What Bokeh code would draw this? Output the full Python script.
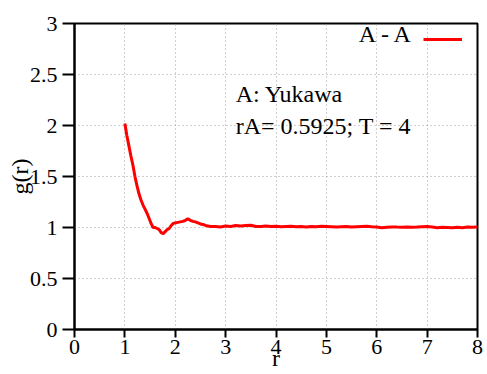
from bokeh.plotting import figure
from bokeh.models import Range1d, FixedTicker, Label, Legend, LegendItem
from bokeh.embed import file_html
from bokeh.resources import INLINE

# ---- data ----
r = [1.00, 1.04, 1.08, 1.12, 1.16, 1.20, 1.24, 1.28, 1.32, 1.36, 1.40, 1.44,
     1.48, 1.52, 1.56, 1.60, 1.64, 1.68, 1.72, 1.76, 1.80, 1.84, 1.88, 1.92,
     1.96, 2.00, 2.05, 2.10, 2.15, 2.20, 2.25, 2.30, 2.35, 2.40, 2.45, 2.50,
     2.55, 2.60, 2.65, 2.70,
     2.8, 2.9, 3.0, 3.1, 3.2, 3.3, 3.4, 3.5, 3.6, 3.7, 3.8, 3.9, 4.0, 4.1,
     4.2, 4.3, 4.4, 4.5, 4.6, 4.7, 4.8, 4.9, 5.0, 5.1, 5.2, 5.3, 5.4, 5.5,
     5.6, 5.7, 5.8, 5.9, 6.0, 6.1, 6.2, 6.3, 6.4, 6.5, 6.6, 6.7, 6.8, 6.9,
     7.0, 7.1, 7.2, 7.3, 7.4, 7.5, 7.6, 7.7, 7.8, 7.9, 8.0]
g = [2.02, 1.90, 1.80, 1.70, 1.61, 1.50, 1.41, 1.33, 1.27, 1.22, 1.18, 1.14,
     1.09, 1.04, 1.00, 1.00, 0.99, 0.98, 0.95, 0.94, 0.96, 0.98, 0.99, 1.02,
     1.04, 1.045, 1.05, 1.055, 1.06, 1.07, 1.085, 1.07, 1.06, 1.055, 1.045, 1.035,
     1.03, 1.02, 1.015, 1.01,
     1.01, 1.005, 1.015, 1.01, 1.02, 1.015, 1.02, 1.022, 1.01, 1.01, 1.015, 1.01,
     1.012, 1.008, 1.01, 1.012, 1.008, 1.01, 1.005, 1.01, 1.008, 1.012, 1.01, 1.008,
     1.005, 1.008, 1.01, 1.006, 1.008, 1.01, 1.012, 1.008, 1.005, 0.998, 1.002, 1.006,
     1.004, 1.003, 1.005, 1.002, 1.004, 1.008, 1.01, 1.005, 0.998, 1.003, 1.0, 0.997,
     1.002, 0.998, 1.004, 1.003, 1.004]

x_ticks = [0, 1, 2, 3, 4, 5, 6, 7, 8]
x_tick_labels = ["0", "1", "2", "3", "4", "5", "6", "7", "8"]
y_ticks = [0, 0.5, 1, 1.5, 2, 2.5, 3]
y_tick_labels = ["0", "0.5", "1", "1.5", "2", "2.5", "3"]

series_name = "A - A"
note_1 = "A: Yukawa"
note_2 = "rA= 0.5925; T = 4"
x_label = "r"
y_label = "g(r)"

FONT = "Liberation Serif"
TICK_FS = "22px"
FS = "24px"

p = figure(width=487, height=374, output_backend="svg", toolbar_location=None,
           x_range=Range1d(0, 8), y_range=Range1d(0, 3),
           min_border_left=74, min_border_right=10, min_border_top=23,
           min_border_bottom=45)
p.background_fill_color = "white"
p.border_fill_color = "white"
p.outline_line_color = "black"
p.outline_line_width = 2
p.outline_line_alpha = 1

for ax, ticks, labels in ((p.xaxis[0], x_ticks, x_tick_labels),
                          (p.yaxis[0], y_ticks, y_tick_labels)):
    ax.ticker = FixedTicker(ticks=ticks)
    ax.major_label_overrides = {t: l for t, l in zip(ticks, labels)}
    ax.minor_tick_line_color = None
    ax.major_tick_in = 0
    ax.axis_line_color = "black"
    ax.axis_line_width = 2
    ax.major_tick_line_color = "black"
    ax.major_tick_line_width = 2
    ax.major_label_text_font = FONT
    ax.major_label_text_font_size = TICK_FS
    ax.major_label_text_color = "black"
    ax.axis_label_text_font = FONT
    ax.axis_label_text_font_size = FS
    ax.axis_label_text_font_style = "normal"
    ax.axis_label_text_color = "black"

p.xaxis.major_tick_out = 8
p.xaxis.major_label_standoff = 2
p.yaxis.major_tick_out = 12
p.yaxis.major_label_standoff = 5

p.yaxis.axis_label = y_label
p.yaxis.axis_label_standoff = -6
p.xaxis.axis_label = x_label
p.xaxis.axis_label_standoff = -12

p.grid.grid_line_color = "#a0a0a0"
p.grid.grid_line_dash = "1 3"
p.grid.grid_line_width = 1
p.xgrid.ticker = FixedTicker(ticks=x_ticks)
p.ygrid.ticker = FixedTicker(ticks=y_ticks)

line = p.line(r, g, line_color="#ff0000", line_width=3)

legend = Legend(items=[LegendItem(label=" ", renderers=[line])],
                location=(349, 280), glyph_width=39, glyph_height=20,
                label_width=0, label_height=20, label_standoff=0,
                label_text_font_size="10px", padding=0, spacing=0, margin=0,
                border_line_alpha=0, background_fill_alpha=0)
p.add_layout(legend)

def add_text(txt, x, y, align="left", baseline="alphabetic"):
    p.add_layout(Label(x=x, y=y, text=txt, text_font=FONT, text_font_size=FS,
                       text_color="black", text_align=align,
                       text_baseline=baseline))

add_text(series_name, 6.73, 2.894, align="right")
add_text(note_1, 3.2, 2.305)
add_text(note_2, 3.2, 2.0)

open("out.html", "w").write(file_html(p, INLINE))
